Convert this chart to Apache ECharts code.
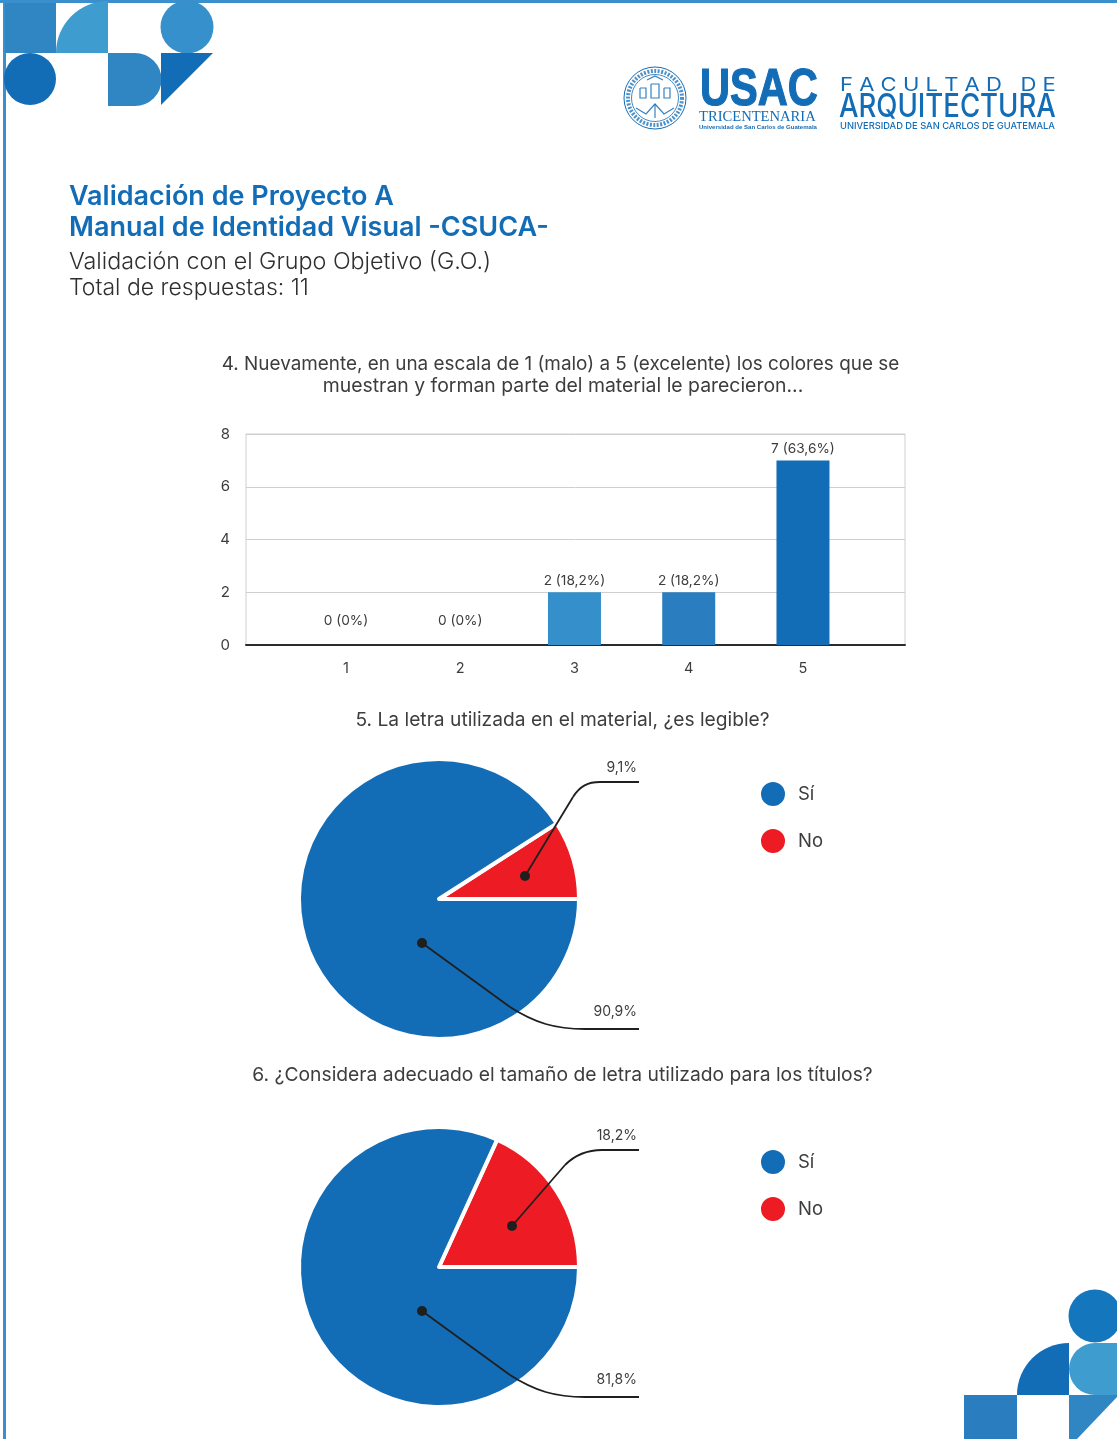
<!DOCTYPE html>
<html><head><meta charset="utf-8">
<style>html,body{margin:0;padding:0;background:#fff}#c{width:1117px;height:1439px}</style>
<script src="https://cdn.jsdelivr.net/npm/echarts@6/dist/echarts.min.js"></script>
</head><body><div id="c"></div>
<script>
const FONT = 'Inter, "Noto Sans", sans-serif';
const BLUE='#136cb6', RED='#ed1c24', TXT='#3d3d3d';
const scaleValues=[1,2,3,4,5];
const barCounts=[0,0,2,2,7];
const barPercents=['0%','0%','18,2%','18,2%','63,6%'];
const barColors=[BLUE,BLUE,'#348fcb','#2a7dbe',BLUE];
const pieNames=['No','Sí'];
const pie5Values=[1,10];
const pie6Values=[2,9];
const yTicks=[0,2,4,6,8];

const chart=echarts.init(document.getElementById('c'),null,{renderer:'canvas'});
function pct(p){return p.percent.toFixed(1).replace('.',',')+'%';}
function pieSeries(values,cy,topY,botY){
  return {type:'pie',center:[439,cy],radius:[0,140],clockwise:false,startAngle:0,animation:false,silent:true,
    percentPrecision:1,
    itemStyle:{borderColor:'#fff',borderWidth:4},
    label:{show:true,formatter:pct,fontFamily:FONT,fontSize:14,color:TXT},
    labelLine:{show:false},
    labelLayout:p=>({x:637,y:p.dataIndex===0?topY:botY,align:'right',verticalAlign:'middle'}),
    data:values.map((v,i)=>({name:pieNames[i],value:v,itemStyle:{color:i===0?RED:BLUE}}))};
}
function legend(top){
  return {orient:'vertical',left:759,top:top,padding:0,itemWidth:26,itemHeight:26,itemGap:19,icon:'circle',selectedMode:false,
    data:['Sí','No'],textStyle:{fontFamily:FONT,fontSize:18.5,color:TXT,lineHeight:24,padding:[0,0,0,7]}};
}
function title(text,x,y,size,weight,color,align){
  return {text:text,left:x,top:y,textAlign:align||'left',padding:0,
    textStyle:{fontFamily:FONT,fontSize:size,fontWeight:weight,color:color,lineHeight:size*1.2}};
}
// a callout: dot, straight run, curve, straight run
function leader(dot,a,c1,c2,b,end){
  const st={fill:'none',stroke:'#1f1f1f',lineWidth:1.8};
  return [
    {type:'line',z:20,shape:{x1:dot[0],y1:dot[1],x2:a[0],y2:a[1]},style:st},
    {type:'bezierCurve',z:20,shape:{x1:a[0],y1:a[1],cpx1:c1[0],cpy1:c1[1],cpx2:c2[0],cpy2:c2[1],x2:b[0],y2:b[1]},style:st},
    {type:'line',z:20,shape:{x1:b[0],y1:b[1],x2:end,y2:b[1]},style:st},
    {type:'circle',z:21,shape:{cx:dot[0],cy:dot[1],r:5},style:{fill:'#1f1f1f'}}
  ];
}
const T=(x,y,text,size,weight,color,family,extra,styleExtra)=>Object.assign({type:'text',z:5,x:x,y:y,
  style:Object.assign({text:text,fontFamily:family||FONT,fontSize:size,fontWeight:weight,fill:color,verticalAlign:'middle'},styleExtra||{})},extra||{});
const seal=(pts)=>({type:'polyline',z:3,shape:{points:pts},style:{fill:'none',stroke:BLUE,lineWidth:1.2,opacity:.85}});
const frame='#3b8fcc';
const graphics=[
  {type:'rect',z:1,shape:{x:0,y:0,width:1117,height:3},style:{fill:frame}},
  {type:'rect',z:1,shape:{x:3,y:0,width:3,height:1439},style:{fill:frame}},
  // top-left decoration
  {type:'rect',z:2,shape:{x:5,y:3,width:51,height:50},style:{fill:'#3085c3'}},
  {type:'sector',z:2,shape:{cx:108,cy:53,r0:0,r:52,startAngle:Math.PI,endAngle:1.5*Math.PI},style:{fill:'#3f9ccf'}},
  {type:'circle',z:2,shape:{cx:187,cy:27,r:26.5},style:{fill:'#3590cc'}},
  {type:'circle',z:2,shape:{cx:30,cy:79,r:26},style:{fill:BLUE}},
  {type:'rect',z:2,shape:{x:108,y:53,width:27,height:53},style:{fill:'#3085c3'}},
  {type:'sector',z:2,shape:{cx:135,cy:79.5,r0:0,r:26.5,startAngle:-Math.PI/2,endAngle:Math.PI/2},style:{fill:'#3085c3'}},
  {type:'polygon',z:2,shape:{points:[[161,53],[213,53],[161,105]]},style:{fill:BLUE}},
  // bottom-right decoration
  {type:'circle',z:2,shape:{cx:1095,cy:1316,r:26.5},style:{fill:'#1476bc'}},
  {type:'sector',z:2,shape:{cx:1069,cy:1395,r0:0,r:52,startAngle:Math.PI,endAngle:1.5*Math.PI},style:{fill:BLUE}},
  {type:'circle',z:2,shape:{cx:1095,cy:1369,r:26},style:{fill:'#3f9ccf'}},
  {type:'rect',z:2,shape:{x:1095,y:1343,width:22,height:52},style:{fill:'#3f9ccf'}},
  {type:'rect',z:2,shape:{x:964,y:1395,width:53,height:44},style:{fill:'#2a7dbe'}},
  {type:'polygon',z:2,shape:{points:[[1069,1395],[1117,1395],[1117,1397],[1077,1439],[1069,1439]]},style:{fill:'#3085c3'}},
  // seal
  {type:'circle',z:3,shape:{cx:655,cy:98,r:31},style:{fill:'none',stroke:BLUE,lineWidth:1}},
  {type:'circle',z:3,shape:{cx:655,cy:98,r:27},style:{fill:'none',stroke:BLUE,lineWidth:4,lineDash:[2,1.5],opacity:.75}},
  {type:'circle',z:3,shape:{cx:655,cy:98,r:23.5},style:{fill:'none',stroke:BLUE,lineWidth:.8}},
  seal([[636,108],[646,114],[655,104],[664,114],[674,108]]),
  seal([[655,104],[655,118]]),
  seal([[640,88],[646,88],[646,98],[640,98],[640,88]]),
  seal([[664,88],[670,88],[670,98],[664,98],[664,88]]),
  seal([[651,84],[659,84],[659,98],[651,98],[651,84]]),
  seal([[647,80],[655,76],[663,80]]),
  // logo wordmarks
  T(700,91,'USAC',52,'bold',BLUE,'"Liberation Sans",sans-serif',{scaleX:.8},{stroke:BLUE,lineWidth:1.2}),
  T(699,117,'TRICENTENARIA',14.6,'normal',BLUE,'"Liberation Serif",serif'),
  T(699,127,'Universidad de San Carlos de Guatemala',6.05,'bold',BLUE,'"Liberation Sans",sans-serif'),
  T(840,85,'F A C U L T A D   D E',19,'normal',BLUE,null,{scaleX:1.16}),
  T(839,107,'ARQUITECTURA',32,500,BLUE,null,{scaleX:.86}),
  T(840,126,'UNIVERSIDAD DE SAN CARLOS DE GUATEMALA',9.3,500,BLUE),
  // callouts
  ...leader([525,876],[573,797],[580,786],[588,782],[600,782],639),
  ...leader([422,943],[510,1007],[535,1023],[555,1029],[585,1029],639),
  ...leader([512,1226],[565,1165],[575,1155],[588,1150],[602,1150],639),
  ...leader([422,1311],[510,1375],[535,1391],[555,1397],[585,1397],639)
];
const option={
  animation:false,backgroundColor:'#fff',
  title:[
    title('Validación de Proyecto A',69,181,27,600,BLUE),
    title('Manual de Identidad Visual -CSUCA-',69,212,27,600,BLUE),
    title('Validación con el Grupo Objetivo (G.O.)',69,248,23.3,300,'#2f2f2f'),
    title('Total de respuestas: 11',69,274,23,300,'#2f2f2f'),
    title('4. Nuevamente, en una escala de 1 (malo) a 5 (excelente) los colores que se',560.5,353,18.9,400,TXT,'center'),
    title('muestran y forman parte del material le parecieron...',563,375,19.4,400,TXT,'center'),
    title('5. La letra utilizada en el material, ¿es legible?',562.5,709,19.2,400,TXT,'center'),
    title('6. ¿Considera adecuado el tamaño de letra utilizado para los títulos?',562.5,1064,19.3,400,TXT,'center')
  ],
  grid:{left:246,right:212,top:434,bottom:794,show:true,borderColor:'#cfcfcf',borderWidth:1},
  xAxis:{type:'value',min:0.125,max:5.893,
    axisLine:{show:true,onZero:true,lineStyle:{color:'#2b2b2b',width:2}},
    axisTick:{show:false},splitLine:{show:false},
    axisLabel:{customValues:scaleValues,margin:16,fontFamily:FONT,fontSize:14.5,color:TXT}},
  yAxis:{type:'value',min:yTicks[0],max:yTicks[yTicks.length-1],interval:2,
    axisLine:{show:false},axisTick:{show:false},
    splitLine:{lineStyle:{color:'#cfcfcf',width:1}},
    axisLabel:{margin:16,fontFamily:FONT,fontSize:15,color:TXT,padding:[2,0,0,0]}},
  legend:[legend(780),legend(1148)],
  series:[
    {type:'bar',barWidth:53,silent:true,animation:false,z:3,
     label:{show:true,position:'top',fontFamily:FONT,fontSize:13.7,color:TXT},
     data:scaleValues.map((v,i)=>({value:[v,barCounts[i]],itemStyle:{color:barColors[i]},
       label:{distance:barCounts[i]===0?17:4,formatter:barCounts[i]+' ('+barPercents[i]+')'}}))},
    pieSeries(pie5Values,899,768,1012),
    pieSeries(pie6Values,1267,1136,1380)
  ],
  graphic:{elements:graphics}
};
chart.setOption(option);
</script></body></html>
